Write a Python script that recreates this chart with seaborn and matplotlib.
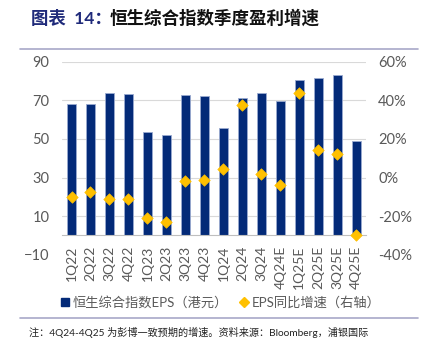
import matplotlib
matplotlib.use("Agg")
import matplotlib.pyplot as plt
from matplotlib.lines import Line2D
import seaborn as sns
import pandas as pd

quarters = ["1Q22", "2Q22", "3Q22", "4Q22", "1Q23", "2Q23", "3Q23", "4Q23", "1Q24",
            "2Q24", "3Q24", "4Q24E", "1Q25E", "2Q25E", "3Q25E", "4Q25E"]
eps = [68.2, 67.9, 73.7, 73.2, 53.8, 51.9, 72.5, 72.2, 55.9,
       71.3, 73.9, 69.4, 80.6, 81.6, 83.2, 49.0]
eps_yoy = [-9.9, -7.3, -11.2, -11.1, -21.0, -23.3, -1.6, -1.1, 4.4,
           37.7, 2.0, -3.7, 43.7, 14.2, 12.3, -29.6]
left_ticks = [90, 70, 50, 30, 10, -10]
right_ticks = [60, 40, 20, 0, -20, -40]

df = pd.DataFrame({"quarter": quarters, "eps": eps, "yoy": eps_yoy})

sns.set_theme(style="white")
plt.rcParams["font.family"] = ["Lato", "Noto Sans CJK SC", "DejaVu Sans"]

BAR = "#032A78"
GOLD = "#FFC000"
GREY_TXT = "#595959"

fig = plt.figure(figsize=(4.23, 3.48), dpi=100)
ax = fig.add_axes([0.1466, 0.268, 0.718, 0.5547])

sns.barplot(data=df, x="quarter", y="eps", ax=ax, color=BAR, width=0.48,
            saturation=1, edgecolor="#9AAAD0", linewidth=0.6)
ax.set_ylim(-10, 90)
ax.set_yticks(left_ticks)
for v in [90, 70, 50, 30, 10]:
    ax.axhline(v, color="#D9D9D9", lw=0.8, zorder=0)
ax.set_xlim(-0.5, len(quarters) - 0.5)
ax.set_xlabel("")
ax.set_ylabel("")

for s in ["top", "left", "right"]:
    ax.spines[s].set_visible(False)
ax.spines["bottom"].set_position(("data", 0))
ax.spines["bottom"].set_color("#BFBFBF")
ax.spines["bottom"].set_linewidth(0.8)
ax.tick_params(axis="x", length=0, pad=7.5, labelsize=10, labelcolor=GREY_TXT,
               labelrotation=90)
ax.tick_params(axis="y", length=0, pad=9, labelsize=10.5, labelcolor=GREY_TXT)

ax2 = ax.twinx()
sns.scatterplot(data=df, x="quarter", y="yoy", ax=ax2, marker="D", s=34,
                color=GOLD, edgecolor=GOLD, linewidth=0.5, zorder=5)
ax2.set_ylim(-40, 60)
ax2.set_yticks(right_ticks)
ax2.set_yticklabels([f"{v}%" for v in right_ticks])
ax2.set_xlim(-0.5, len(quarters) - 0.5)
ax2.set_ylabel("")
ax2.set_xlabel("")
for s in ax2.spines.values():
    s.set_visible(False)
ax2.tick_params(axis="y", length=0, pad=9, labelsize=10.5, labelcolor=GREY_TXT)
ax2.grid(False)

# Title
fig.text(0.073, 0.947, "图表  14：", fontsize=12.5, fontweight="bold",
         color="#1F2A7A", va="center", family=["Lato", "Noto Sans CJK SC"])
fig.text(0.258, 0.947, "恒生综合指数季度盈利增速", fontsize=12.6, fontweight="bold",
         color="#111111", va="center", family=["Noto Sans CJK SC"])
fig.add_artist(Line2D([0.047, 0.988], [0.859, 0.859], color="#A8A8C8", lw=1.2))

# Legend
handles = [
    Line2D([], [], marker="s", ls="", color=BAR, markersize=6),
    Line2D([], [], marker="D", ls="", color=GOLD, markersize=5.5),
]
labels = ["恒生综合指数EPS（港元）", "EPS同比增速（右轴）"]
fig.legend(handles, labels, loc="center", bbox_to_anchor=(0.52, 0.132), ncol=2,
           frameon=False, fontsize=9.5, labelcolor=GREY_TXT, handletextpad=0.2,
           columnspacing=0.8, handlelength=0.8)
fig.add_artist(Line2D([0.047, 0.988], [0.085, 0.085], color="#A8A8C8", lw=1.2))

fig.text(0.068, 0.046, "注：4Q24-4Q25 为彭博一致预期的增速。资料来源：Bloomberg，浦银国际",
         fontsize=7.3, color="#222222", va="center")

fig.savefig("out.png", dpi=100)
